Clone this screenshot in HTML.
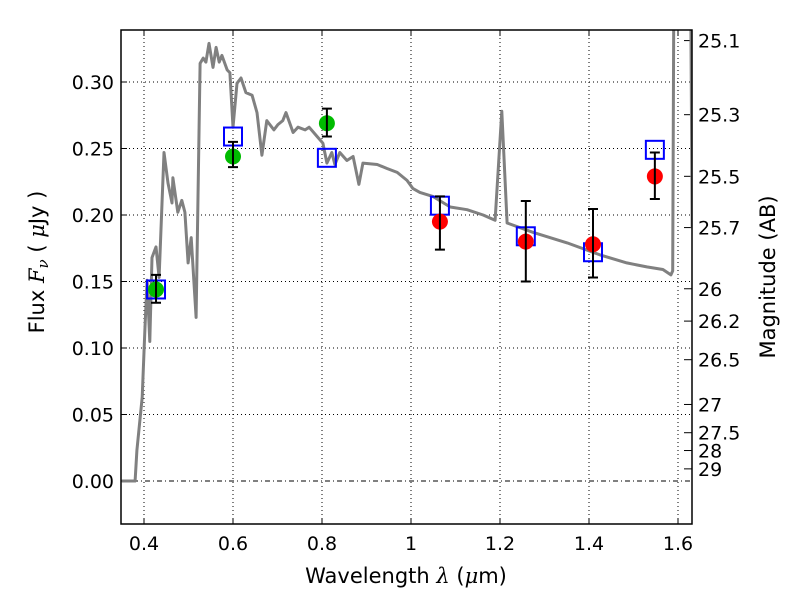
<!DOCTYPE html>
<html><head><meta charset="utf-8"><style>
body{margin:0;background:#fff}
svg text{font-family:"DejaVu Sans","Liberation Sans",sans-serif;fill:#000}
</style></head><body>
<svg id="c" width="800" height="600" xmlns="http://www.w3.org/2000/svg"></svg>
<script>
const specLam=[0.350,0.380,0.384,0.396,0.402,0.407,0.413,0.418,0.427,0.434,0.445,0.454,0.463,0.465,0.476,0.485,0.492,0.499,0.506,0.517,0.526,0.533,0.539,0.546,0.555,0.562,0.569,0.575,0.587,0.593,0.600,0.609,0.618,0.629,0.643,0.654,0.665,0.676,0.692,0.701,0.712,0.719,0.735,0.746,0.762,0.771,0.789,0.802,0.811,0.822,0.829,0.840,0.856,0.870,0.883,0.892,0.924,0.946,0.969,0.991,1.004,1.020,1.049,1.088,1.126,1.162,1.189,1.204,1.216,1.274,1.351,1.425,1.485,1.530,1.566,1.584,1.588,1.591,1.600,1.624,1.632];
const specFlux=[0.000,0.000,0.023,0.063,0.114,0.151,0.105,0.168,0.176,0.153,0.247,0.224,0.209,0.228,0.202,0.211,0.202,0.164,0.183,0.123,0.314,0.318,0.315,0.329,0.311,0.326,0.315,0.320,0.309,0.307,0.266,0.299,0.303,0.292,0.290,0.277,0.245,0.271,0.264,0.268,0.271,0.277,0.262,0.266,0.264,0.266,0.259,0.254,0.239,0.247,0.238,0.247,0.241,0.244,0.223,0.239,0.238,0.235,0.232,0.226,0.220,0.217,0.214,0.206,0.204,0.200,0.196,0.278,0.194,0.187,0.179,0.170,0.164,0.161,0.159,0.155,0.158,0.40,0.60,0.60,0.19];
const greenLam=[0.427,0.600,0.811];
const greenFlux=[0.144,0.244,0.269];
const greenLo=[0.134,0.236,0.259];
const greenHi=[0.155,0.255,0.280];
const redLam=[1.065,1.258,1.409,1.548];
const redFlux=[0.195,0.180,0.178,0.229];
const redLo=[0.174,0.150,0.153,0.212];
const redHi=[0.214,0.2105,0.2045,0.247];
const modelLam=[0.427,0.600,0.811,1.065,1.258,1.409,1.548];
const modelFlux=[0.144,0.259,0.243,0.207,0.184,0.172,0.249];
const xTicks=[0.4,0.6,0.8,1.0,1.2,1.4,1.6];
const xTickLabels=["0.4","0.6","0.8","1","1.2","1.4","1.6"];
const yTicks=[0,0.05,0.10,0.15,0.20,0.25,0.30];
const yTickLabels=["0.00","0.05","0.10","0.15","0.20","0.25","0.30"];
const magTicks=[25.1,25.3,25.5,25.7,26,26.2,26.5,27,27.5,28,29];
const magLabels=["25.1","25.3","25.5","25.7","26","26.2","26.5","27","27.5","28","29"];

const L=121,R=692,T=30,B=524;
const X=v=>144+(v-0.4)*445;
const Y=v=>481-v*1330;
const NS="http://www.w3.org/2000/svg";
const svg=document.getElementById('c');
function mk(tag,at,parent){const e=document.createElementNS(NS,tag);for(const k in at)e.setAttribute(k,at[k]);(parent||svg).appendChild(e);return e;}

const defs=mk('defs',{});
const cp=mk('clipPath',{id:'clip'},defs);mk('rect',{x:L,y:T,width:R-L,height:B-T},cp);

xTicks.forEach((t,i)=>{
  const g=mk('line',{x1:X(t),x2:X(t),y1:T,y2:B,stroke:'#000','stroke-width':1,'stroke-dasharray':'1,3'});
  
  
  const tk=mk('line',{x1:X(t),x2:X(t),y1:B,y2:B-6,stroke:'#000'});
  
  
  const tk2=mk('line',{x1:X(t),x2:X(t),y1:T,y2:T+6,stroke:'#000'});
  
  
  const tx=mk('text',{x:X(t),y:B+26,'font-size':19,'text-anchor':'middle'});tx.textContent=xTickLabels[i];
  
  
});
yTicks.forEach((t,i)=>{
  const g=mk('line',{x1:L,x2:R,y1:Y(t),y2:Y(t),stroke:'#000','stroke-width':1,'stroke-dasharray':t===0?'5,3,1,3':'1,3'});
  
  
  const tk=mk('line',{x1:L,x2:L+6,y1:Y(t),y2:Y(t),stroke:'#000'});
  
  
  const tx=mk('text',{x:L-7,y:Y(t)+7,'font-size':19,'text-anchor':'end'});tx.textContent=yTickLabels[i];
  
  
});
magTicks.forEach((m,i)=>{
  const f=Math.pow(10,(23.9-m)/2.5);
  const tk=mk('line',{x1:R,x2:R-8,y1:Y(f),y2:Y(f),stroke:'#000'});
  
  
  const tx=mk('text',{x:R+6,y:Y(f)+7,'font-size':19});tx.textContent=magLabels[i];
  
  
});

const d=specLam.map((l,i)=>(i?'L':'M')+X(l).toFixed(1)+','+Y(specFlux[i]).toFixed(1)).join(' ');
const sp=mk('path',{d:d,fill:'none',stroke:'#808080','stroke-width':3,'stroke-linejoin':'round','clip-path':'url(#clip)'});



modelLam.forEach((l,i)=>{
  const s=mk('rect',{x:X(l)-9,y:Y(modelFlux[i])-9,width:18,height:18,fill:'none',stroke:'#0000ff','stroke-width':2});
  
  
});
function pts(lam,fl,lo,hi,col,name){
  lam.forEach((l,i)=>{
    const c=mk('circle',{cx:X(l),cy:Y(fl[i]),r:8,fill:col});
    
    
    const e=mk('path',{d:`M${X(l)},${Y(lo[i])}V${Y(hi[i])}M${X(l)-5},${Y(lo[i])}h10M${X(l)-5},${Y(hi[i])}h10`,stroke:'#000','stroke-width':2,fill:'none'});
    
    
  });
}
pts(greenLam,greenFlux,greenLo,greenHi,'#00bb00','green-observed-point');
pts(redLam,redFlux,redLo,redHi,'#ff0000','red-observed-point');

const fr=mk('rect',{x:L,y:T,width:R-L,height:B-T,fill:'none',stroke:'#000','stroke-width':1.5});


</script>
<svg width="800" height="600" style="position:absolute;left:0;top:0">
<text x="406" y="583" font-size="21" text-anchor="middle">Wavelength  <tspan font-style="italic" font-family="DejaVu Serif,serif">λ</tspan> (<tspan font-style="italic" font-family="DejaVu Serif,serif">μ</tspan>m)</text>
<text transform="translate(44,262) rotate(-90)" font-size="21" text-anchor="middle">Flux  <tspan font-style="italic" font-family="DejaVu Serif,serif">F<tspan font-size="15" dy="4">ν</tspan></tspan><tspan dy="-4">  (  </tspan><tspan font-style="italic" font-family="DejaVu Serif,serif">μ</tspan>Jy )</text>
<text transform="translate(775,277) rotate(-90)" font-size="21" text-anchor="middle">Magnitude (AB)</text>
</svg>
</body></html>
